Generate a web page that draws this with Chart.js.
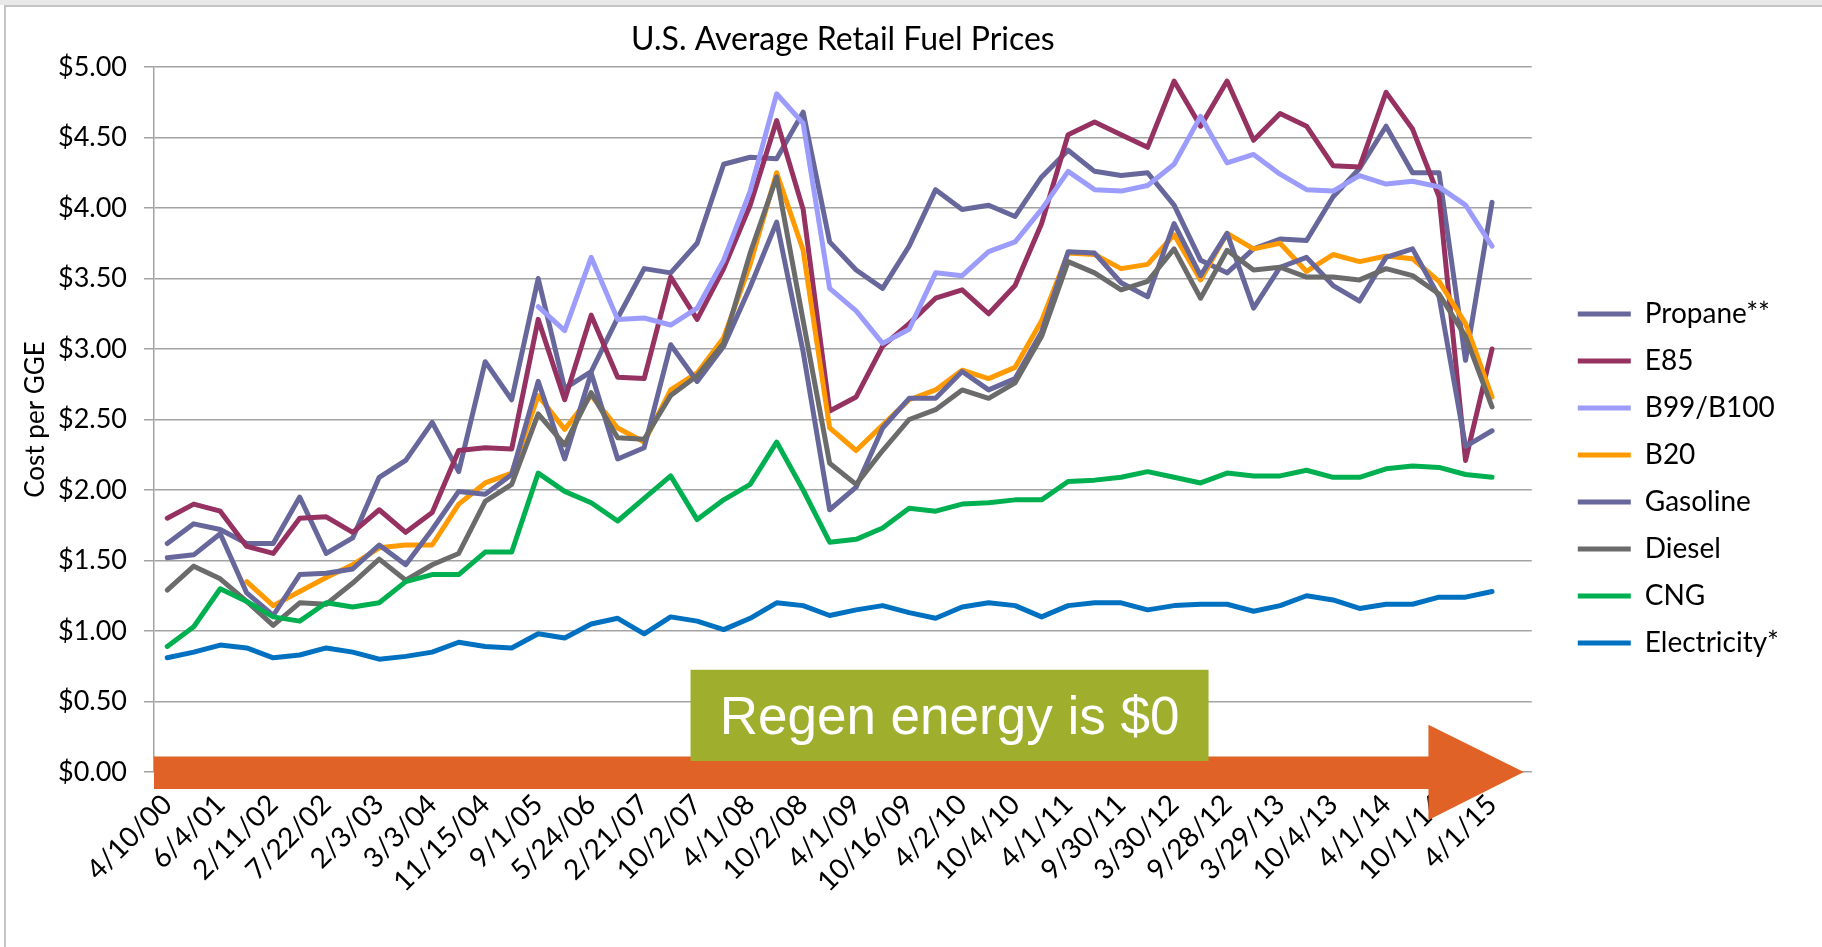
<!DOCTYPE html>
<html>
<head>
<meta charset="utf-8">
<title>U.S. Average Retail Fuel Prices</title>
<script src="https://cdn.jsdelivr.net/npm/chart.js@4.4.1/dist/chart.umd.min.js"></script>
<style>
    html, body { margin: 0; padding: 0; background: #fff; overflow: hidden; }
    #strip { position: absolute; left: 0; top: 0; width: 1822px; height: 5px; background: #e9e9e9; }
    #frame { position: absolute; left: 4px; top: 5px; width: 1818px; height: 942px;
             border-left: 2px solid #c4c4c4; border-top: 2px solid #c4c4c4; box-sizing: border-box; }
    #wrap { position: absolute; left: 0; top: 0; width: 1822px; height: 947px; }
</style>
</head>
<body>
<div id="strip"></div>
<div id="frame"></div>
<div id="wrap"><canvas id="fuelChart"></canvas></div>
<script>
// Survey dates shown on the axis (every other survey carries a label)
const dateTicks = ['4/10/00', '6/4/01', '2/11/02', '7/22/02', '2/3/03', '3/3/04', '11/15/04', '9/1/05',
    '5/24/06', '2/21/07', '10/2/07', '4/1/08', '10/2/08', '4/1/09', '10/16/09', '4/2/10', '10/4/10',
    '4/1/11', '9/30/11', '3/30/12', '9/28/12', '3/29/13', '10/4/13', '4/1/14', '10/1/14', '4/1/15'];

// Cost per gasoline gallon equivalent, one value per survey
const propane = [1.62, 1.76, 1.72, 1.62, 1.62, 1.95, 1.55, 1.66, 2.09, 2.21,
    2.48, 2.13, 2.91, 2.64, 3.50, 2.72, 2.84, 3.22, 3.57, 3.54,
    3.75, 4.31, 4.36, 4.35, 4.68, 3.76, 3.56, 3.43, 3.73, 4.13,
    3.99, 4.02, 3.94, 4.22, 4.41, 4.26, 4.23, 4.25, 4.02, 3.63,
    3.54, 3.71, 3.78, 3.77, 4.08, 4.28, 4.58, 4.25, 4.25, 2.92, 4.04];
const e85 = [1.80, 1.90, 1.85, 1.60, 1.55, 1.80, 1.81, 1.70, 1.86, 1.70,
    1.84, 2.28, 2.30, 2.29, 3.21, 2.64, 3.24, 2.80, 2.79, 3.51,
    3.21, 3.57, 4.02, 4.62, 3.99, 2.56, 2.66, 3.02, 3.18, 3.36,
    3.42, 3.25, 3.45, 3.89, 4.52, 4.61, 4.52, 4.43, 4.90, 4.58,
    4.90, 4.48, 4.67, 4.58, 4.30, 4.29, 4.82, 4.56, 4.08, 2.21, 3.00];
const b100 = [null, null, null, null, null, null, null, null, null, null,
    null, null, null, null, 3.30, 3.13, 3.65, 3.21, 3.22, 3.17,
    3.29, 3.63, 4.12, 4.81, 4.60, 3.43, 3.27, 3.04, 3.14, 3.54,
    3.52, 3.69, 3.76, 3.99, 4.26, 4.13, 4.12, 4.16, 4.31, 4.65,
    4.32, 4.38, 4.24, 4.13, 4.12, 4.23, 4.17, 4.19, 4.15, 4.02, 3.73];
const b20 = [null, null, null, 1.35, 1.18, 1.28, 1.38, 1.47, 1.59, 1.61,
    1.61, 1.90, 2.05, 2.12, 2.67, 2.43, 2.67, 2.44, 2.34, 2.71,
    2.83, 3.08, 3.60, 4.25, 3.70, 2.44, 2.28, 2.46, 2.64, 2.71,
    2.85, 2.79, 2.87, 3.20, 3.68, 3.67, 3.57, 3.60, 3.81, 3.49,
    3.82, 3.71, 3.75, 3.55, 3.67, 3.62, 3.66, 3.64, 3.48, 3.18, 2.66];
const gasoline = [1.52, 1.54, 1.69, 1.27, 1.11, 1.40, 1.41, 1.44, 1.61, 1.47,
    1.72, 1.99, 1.97, 2.11, 2.77, 2.22, 2.83, 2.22, 2.30, 3.03,
    2.77, 3.02, 3.44, 3.90, 2.98, 1.86, 2.02, 2.44, 2.65, 2.65,
    2.84, 2.71, 2.79, 3.12, 3.69, 3.68, 3.47, 3.37, 3.89, 3.52,
    3.82, 3.29, 3.58, 3.65, 3.45, 3.34, 3.65, 3.71, 3.37, 2.31, 2.42];
const diesel = [1.29, 1.46, 1.37, 1.21, 1.04, 1.20, 1.19, 1.34, 1.51, 1.36,
    1.47, 1.55, 1.92, 2.04, 2.54, 2.32, 2.69, 2.37, 2.36, 2.67,
    2.81, 3.04, 3.68, 4.22, 3.20, 2.19, 2.04, 2.28, 2.50, 2.57,
    2.71, 2.65, 2.76, 3.09, 3.62, 3.54, 3.42, 3.48, 3.71, 3.36,
    3.70, 3.56, 3.58, 3.51, 3.51, 3.49, 3.57, 3.52, 3.39, 3.09, 2.59];
const cng = [0.89, 1.03, 1.30, 1.21, 1.10, 1.07, 1.20, 1.17, 1.20, 1.35,
    1.40, 1.40, 1.56, 1.56, 2.12, 1.99, 1.91, 1.78, 1.94, 2.10,
    1.79, 1.93, 2.04, 2.34, 2.00, 1.63, 1.65, 1.73, 1.87, 1.85,
    1.90, 1.91, 1.93, 1.93, 2.06, 2.07, 2.09, 2.13, 2.09, 2.05,
    2.12, 2.10, 2.10, 2.14, 2.09, 2.09, 2.15, 2.17, 2.16, 2.11, 2.09];
const electricity = [0.81, 0.85, 0.90, 0.88, 0.81, 0.83, 0.88, 0.85, 0.80, 0.82,
    0.85, 0.92, 0.89, 0.88, 0.98, 0.95, 1.05, 1.09, 0.98, 1.10,
    1.07, 1.01, 1.09, 1.20, 1.18, 1.11, 1.15, 1.18, 1.13, 1.09,
    1.17, 1.20, 1.18, 1.10, 1.18, 1.20, 1.20, 1.15, 1.18, 1.19,
    1.19, 1.14, 1.18, 1.25, 1.22, 1.16, 1.19, 1.19, 1.24, 1.24, 1.28];

// one category per survey, plus the empty slot Excel leaves at the end
const categories = [];
dateTicks.forEach(d => categories.push(d, ''));

const SERIES = [
    { label: 'Propane**',    data: propane,     color: '#67679c' },
    { label: 'E85',          data: e85,         color: '#953261' },
    { label: 'B99/B100',     data: b100,        color: '#9c9cfc' },
    { label: 'B20',          data: b20,         color: '#ff9a00' },
    { label: 'Gasoline',     data: gasoline,    color: '#67679c' },
    { label: 'Diesel',       data: diesel,      color: '#6b6b6b' },
    { label: 'CNG',          data: cng,         color: '#00b050' },
    { label: 'Electricity*', data: electricity, color: '#0070c0' }
];

// "Regen energy is $0" callout, placed in axis units
const regenNote = {
    id: 'regenNote',
    afterDraw(chart) {
        const { ctx, chartArea } = chart;
        const x = chart.scales.x, y = chart.scales.y;
        ctx.save();

        // orange arrow along the $0 line
        const xs = chartArea.left;
        const xb = x.getPixelForValue(47.6);
        const xt = x.getPixelForValue(51.2);
        ctx.fillStyle = '#e06226';
        ctx.beginPath();
        ctx.moveTo(xs, y.getPixelForValue(0.11));
        ctx.lineTo(xb, y.getPixelForValue(0.11));
        ctx.lineTo(xb, y.getPixelForValue(0.335));
        ctx.lineTo(xt, y.getPixelForValue(0));
        ctx.lineTo(xb, y.getPixelForValue(-0.34));
        ctx.lineTo(xb, y.getPixelForValue(-0.12));
        ctx.lineTo(xs, y.getPixelForValue(-0.12));
        ctx.closePath();
        ctx.fill();

        // green label box
        const bx0 = x.getPixelForValue(19.75), bx1 = x.getPixelForValue(39.3);
        const by0 = y.getPixelForValue(0.725), by1 = y.getPixelForValue(0.078);
        ctx.fillStyle = '#9faf2d';
        ctx.fillRect(bx0, by0, bx1 - bx0, by1 - by0);
        ctx.fillStyle = '#ffffff';
        ctx.font = '53px "Liberation Sans", Arial, sans-serif';
        ctx.textAlign = 'center';
        ctx.textBaseline = 'alphabetic';
        ctx.fillText('Regen energy is $0', (bx0 + bx1) / 2, (by0 + by1) / 2 + 19);
        ctx.restore();
    }
};

const FONT = 'Lato';
const GRID = '#a3a3a3';

const datasets = SERIES.map((s, i) => ({
    label: s.label,
    data: s.data,
    borderColor: s.color,
    backgroundColor: s.color,
    borderWidth: 5,
    borderCapStyle: 'round',
    borderJoinStyle: 'round',
    pointRadius: 0,
    pointHoverRadius: 0,
    tension: 0,
    fill: false,
    order: -i   // later series drawn on top, as in Excel
}));

new Chart(document.getElementById('fuelChart'), {
    type: 'line',
    data: { labels: categories, datasets: datasets },
    plugins: [regenNote],
    options: {
        responsive: true,
        maintainAspectRatio: false,
        animation: false,
        layout: { padding: { top: 10, right: 33, bottom: 0, left: 0 } },
        plugins: {
            title: {
                display: true,
                text: 'U.S. Average Retail Fuel Prices',
                color: '#000',
                fullSize: false,
                font: { family: FONT, size: 32, weight: 'normal' },
                padding: { top: 10, bottom: 8.6 }
            },
            legend: {
                position: 'right',
                labels: {
                    usePointStyle: true,
                    pointStyle: 'line',
                    pointStyleWidth: 53,
                    color: '#000',
                    font: { family: FONT, size: 28 },
                    padding: 19,
                    sort: (a, b) => a.datasetIndex - b.datasetIndex
                }
            },
            tooltip: { enabled: false }
        },
        scales: {
            x: {
                offset: true,
                grid: { display: false, drawTicks: false },
                border: { display: false },
                ticks: {
                    autoSkip: false,
                    maxRotation: 45,
                    minRotation: 45,
                    padding: 16,
                    color: '#000',
                    font: { family: FONT, size: 28 }
                },
                afterFit: (scale) => { scale.height = 175; }
            },
            y: {
                min: 0,
                max: 5,
                grid: { color: GRID, lineWidth: 1.5, tickLength: 10 },
                border: { color: GRID, width: 1.5 },
                ticks: {
                    stepSize: 0.5,
                    padding: 17,
                    color: '#000',
                    font: { family: FONT, size: 27 },
                    callback: (v) => '$' + Number(v).toFixed(2)
                },
                title: {
                    display: true,
                    text: 'Cost per GGE',
                    color: '#000',
                    font: { family: FONT, size: 26 },
                    padding: { top: 20, bottom: 0 }
                },
                afterFit: (scale) => { scale.width = 154; }
            },
            gap: {
                position: 'right',
                display: true,
                grid: { display: false, drawTicks: false },
                border: { display: false },
                ticks: { display: false },
                afterFit: (scale) => { scale.width = 27; }
            }
        }
    }
});
</script>
</body>
</html>
